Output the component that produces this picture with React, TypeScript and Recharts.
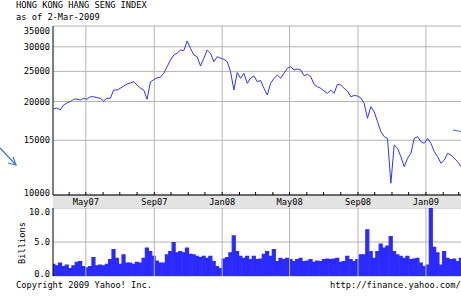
import React from "react";
import { LineChart, Line, BarChart, Bar, XAxis, YAxis, CartesianGrid, ReferenceLine } from "recharts";

// Hang Seng closes and volumes, one sample every 6 days from day 3 (4-Mar-2007)
const SAMPLE_START = 3;
const SAMPLE_STEP = 6;

const closes = [
  18920, 19060, 18780, 19490, 19780, 19970, 20330, 20370, 20220, 20480,
  20330, 20720, 20720, 20570, 20480, 20070, 20480, 20480, 21780, 21780,
  22060, 22430, 22770, 22940, 23160, 22600, 22100, 21780, 20330, 23110,
  23520, 23840, 23950, 24650, 25890, 27200, 28230, 28590, 29300, 29150,
  31320, 29670, 28230, 27880, 26020, 27550, 29300, 28590, 26860, 27880,
  27550, 27340, 26860, 24940, 21780, 24800, 23750, 24650, 22890, 23800,
  24160, 23160, 23370, 22060, 20990, 22890, 23750, 24340, 23750, 24650,
  25580, 25890, 25260, 25450, 25260, 24220, 24470, 24040, 22720, 22320,
  22060, 21620, 21250, 21780, 21250, 22720, 22600, 22060, 21620, 20720,
  20910, 20830, 20530, 19730, 17660, 19240, 18540, 17220, 15990, 15410,
  15220, 10910, 14490, 14140, 13280, 12330, 13130, 13620, 15220, 15410,
  14850, 14670, 15200, 14670, 13790, 13280, 12650, 12960, 13620, 13450,
  13130, 12800, 12330,
];

// billions
const volumes = [
  1.7, 1.5, 1.9, 1.4, 1.6, 1.1, 1.5, 2.0, 2.1, 1.4,
  1.2, 1.4, 2.7, 1.5, 1.6, 1.5, 1.7, 2.4, 3.9, 2.6,
  1.7, 3.1, 1.9, 1.9, 1.7, 2.0, 1.9, 2.6, 4.1, 3.6,
  2.9, 2.2, 1.9, 1.9, 3.1, 3.6, 4.9, 3.4, 3.6, 3.4,
  4.1, 3.2, 3.1, 2.9, 2.7, 2.9, 2.6, 2.9, 2.1, 1.4,
  1.1, 2.5, 2.7, 3.4, 5.9, 3.6, 2.9, 2.6, 2.9, 2.4,
  2.9, 2.4, 2.5, 3.2, 3.6, 2.9, 3.9, 2.1, 2.6, 2.4,
  2.6, 2.4, 2.1, 2.4, 2.6, 2.1, 2.2, 2.4, 2.0, 2.2,
  2.1, 2.4, 2.5, 2.4, 2.5, 2.6, 2.0, 2.1, 2.9, 2.4,
  2.1, 2.4, 3.1, 3.1, 6.8, 3.6, 2.6, 3.6, 4.7, 4.1,
  4.4, 5.8, 3.6, 3.1, 2.9, 2.6, 2.9, 2.4, 2.5, 2.6,
  1.9, 1.4, 1.6, 10.0, 4.2, 3.4, 1.6, 3.6, 2.6, 2.4,
  2.5, 2.1, 2.6,
];

const priceTicks = [10000, 15000, 20000, 25000, 30000, 35000];
const volumeTicks = [0, 5, 10];
const monthLabels = ["May07", "Sep07", "Jan08", "May08", "Sep08", "Jan09"];

const FONT = "'DejaVu Sans Mono', monospace";
const FS = 8.7;
const GRID = "#b4b4b4";
const X_DOMAIN: [number, number] = [2, 735];

// month starts as days since 1-Mar-2007
const BASE = Date.UTC(2007, 2, 1);
const monthTicks: number[] = [];
const labelByDay = new Map<number, string>();
for (let m = 1; m <= 24; m++) {
  const day = Math.round((Date.UTC(2007, 2 + m, 1) - BASE) / 86400000);
  monthTicks.push(day);
  if ((m - 2) % 4 === 0) labelByDay.set(day, monthLabels[(m - 2) / 4]);
}
const labelDays = Array.from(labelByDay.keys());

const rows = closes.map((close, i) => ({
  day: SAMPLE_START + i * SAMPLE_STEP,
  close,
  volume: volumes[i],
}));

function BandTick({ x, y, payload }: any) {
  const label = labelByDay.get(payload.value);
  return (
    <g>
      <line x1={x} x2={x} y1={y} y2={y - 3} stroke="#000" />
      {label && (
        <text x={x} y={y + 9.5} textAnchor="middle" fontFamily={FONT} fontSize={FS} fill="#000">
          {label}
        </text>
      )}
    </g>
  );
}

const DownTick = ({ x, y }: any) => <line x1={x} x2={x} y1={y} y2={y + 3} stroke="#000" />;
const UpTick = ({ x, y }: any) => <line x1={x} x2={x} y1={y} y2={y - 3} stroke="#000" />;

function PriceTick({ x, y, payload }: any) {
  const shift = payload.value === 35000 ? 5 : payload.value === 10000 ? -2 : 0;
  return (
    <text x={x} y={y + shift} dy="0.35em" textAnchor="end" fontFamily={FONT} fontSize={FS} fill="#000">
      {payload.value}
    </text>
  );
}

function VolumeTick({ x, y, payload }: any) {
  const shift = payload.value === 10 ? 4 : payload.value === 0 ? -2 : 0;
  return (
    <text x={x} y={y + shift} dy="0.35em" textAnchor="end" fontFamily={FONT} fontSize={FS} fill="#000">
      {payload.value.toFixed(1)}
    </text>
  );
}

const text = (left: number, top: number, s: string) => (
  <div style={{ position: "absolute", left, top, fontFamily: FONT, fontSize: FS, lineHeight: "10px", whiteSpace: "nowrap" }}>
    {s}
  </div>
);

export default function App() {
  const xCommon = {
    dataKey: "day",
    type: "number" as const,
    domain: X_DOMAIN,
    allowDataOverflow: true,
    ticks: monthTicks,
    interval: 0 as const,
    tickSize: 0,
    tickMargin: 0,
    tickLine: false,
    axisLine: { stroke: "#000" },
  };
  return (
    <div style={{ position: "absolute", left: 0, top: 0, width: 461, height: 306, background: "#fff", overflow: "hidden" }}>
      {text(16, 0, "HONG KONG HANG SENG INDEX")}
      {text(16, 12, "as of 2-Mar-2009")}

      <div style={{ position: "absolute", left: 53, top: 195, width: 408, height: 13, background: "#e3e3e3" }} />

      <div style={{ position: "absolute", left: 0, top: 0 }}>
        <LineChart width={461} height={208} data={rows} margin={{ top: 26, right: 0, bottom: 0, left: 0 }}>
          <CartesianGrid vertical={false} stroke={GRID} />
          {labelDays.map((d) => (
            <ReferenceLine key={d} x={d} stroke={GRID} />
          ))}
          <XAxis {...xCommon} height={13} tick={<BandTick />} />
          <XAxis {...xCommon} xAxisId="top" orientation="top" height={0} tick={<DownTick />} />
          <YAxis
            scale="log"
            domain={[10000, 35000]}
            allowDataOverflow
            ticks={priceTicks}
            interval={0}
            width={53}
            tickSize={0}
            tickMargin={3}
            tickLine={false}
            tick={<PriceTick />}
            axisLine={{ stroke: "#000" }}
          />
          <Line dataKey="close" type="linear" stroke="#3333ff" strokeWidth={1} dot={false} isAnimationActive={false} />
        </LineChart>
      </div>

      <div style={{ position: "absolute", left: 0, top: 208 }}>
        <BarChart
          width={461}
          height={74}
          data={rows}
          margin={{ top: 0, right: 0, bottom: 6, left: 0 }}
          barCategoryGap={0}
          barGap={0}
        >
          <CartesianGrid vertical={false} stroke={GRID} />
          {labelDays.map((d) => (
            <ReferenceLine key={d} x={d} stroke={GRID} />
          ))}
          <XAxis {...xCommon} height={0} tick={<UpTick />} />
          <XAxis {...xCommon} xAxisId="top" orientation="top" height={0} tick={<DownTick />} />
          <YAxis
            domain={[0, 10]}
            allowDataOverflow
            ticks={volumeTicks}
            interval={0}
            width={53}
            tickSize={0}
            tickMargin={3}
            tickLine={false}
            tick={<VolumeTick />}
            axisLine={{ stroke: "#000" }}
          />
          <Bar dataKey="volume" fill="#2b2bff" stroke="#2b2bff" strokeWidth={1.2} isAnimationActive={false} />
        </BarChart>
      </div>

      <div
        style={{
          position: "absolute",
          left: 22,
          top: 243,
          transform: "translate(-50%, -50%) rotate(-90deg)",
          fontFamily: FONT,
          fontSize: FS,
          lineHeight: "10px",
        }}
      >
        Billions
      </div>

      {text(16, 280, "Copyright 2009 Yahoo! Inc.")}
      {text(330, 280, "http://finance.yahoo.com/")}

      <svg width={461} height={306} style={{ position: "absolute", left: 0, top: 0, pointerEvents: "none" }}>
        <g stroke="#3d7cc9" strokeWidth={1.2} fill="none">
          <line x1={0} y1={148} x2={16} y2={165} />
          <polyline points="13,157 16,165 8,163" />
          <line x1={453} y1={130} x2={461} y2={131.5} />
        </g>
      </svg>
    </div>
  );
}
